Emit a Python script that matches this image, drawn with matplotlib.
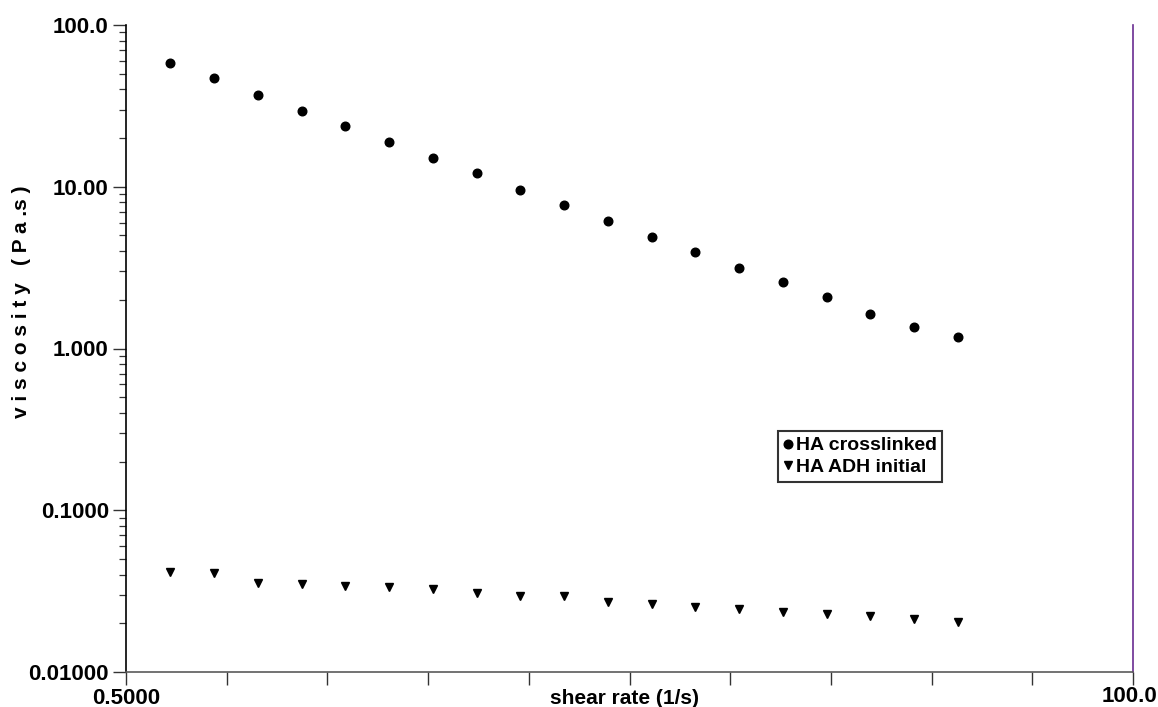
import matplotlib
matplotlib.use("Agg")
import matplotlib.pyplot as plt
from matplotlib.ticker import FixedLocator, NullFormatter, LogLocator, FixedFormatter

plt.rcParams['font.family'] = ['Liberation Sans', 'DejaVu Sans']
plt.rcParams['font.weight'] = 'bold'

# shear rate (1/s)
shear_rate = [0.631, 0.794, 1.000, 1.259, 1.585, 1.995, 2.512, 3.162, 3.981, 5.012,
              6.310, 7.943, 10.00, 12.59, 15.85, 19.95, 25.12, 31.62, 39.81]
# viscosity (Pa.s)
ha_crosslinked = [58.0, 46.8, 37.1, 29.4, 23.6, 19.0, 15.06, 12.11, 9.59, 7.71,
                  6.11, 4.91, 3.97, 3.13, 2.57, 2.07, 1.64, 1.364, 1.173]
ha_adh_initial = [0.0413, 0.0408, 0.0357, 0.0350, 0.0342, 0.0337, 0.0325, 0.0308, 0.0294, 0.0295,
                  0.0270, 0.0262, 0.0252, 0.0245, 0.0236, 0.0229, 0.0221, 0.0214, 0.0204]

x_tick_labels = ['0.5000', '', '', '', '', '', '', '', '', '', '100.0']
y_ticks = [0.01, 0.1, 1.0, 10.0, 100.0]
y_tick_labels = ['0.01000', '0.1000', '1.000', '10.00', '100.0']
series_names = ['HA crosslinked', 'HA ADH initial']

W, H = 1158, 707
fig = plt.figure(figsize=(W / 100, H / 100), dpi=100)
ax = fig.add_axes([126/W, 1 - 672/H, (1133 - 126)/W, (672 - 25)/H])

ax.plot(shear_rate, ha_crosslinked, linestyle='none', marker='o', markersize=6.2,
        color='black', label=series_names[0])
ax.plot(shear_rate, ha_adh_initial, linestyle='none', marker='v', markersize=5.6,
        color='black', label=series_names[1])

ax.set_xscale('log')
ax.set_yscale('log')
ax.set_xlim(0.5, 100.0)
ax.set_ylim(0.01, 100.0)

xmin, xmax = 0.5, 100.0
xticks = [xmin * (xmax / xmin) ** (k / 10) for k in range(11)]
ax.xaxis.set_major_locator(FixedLocator(xticks))
# last label drawn separately so it stays inside the figure like the reference
ax.xaxis.set_major_formatter(FixedFormatter(x_tick_labels[:-1] + ['']))
ax.xaxis.set_minor_locator(FixedLocator([]))
ax.xaxis.set_minor_formatter(NullFormatter())

ax.yaxis.set_major_locator(FixedLocator(y_ticks))
ax.yaxis.set_major_formatter(FixedFormatter(y_tick_labels))
ax.yaxis.set_minor_locator(LogLocator(base=10, subs=[2, 3, 4, 5, 6, 7, 8, 9], numticks=20))
ax.yaxis.set_minor_formatter(NullFormatter())

ax.tick_params(axis='both', which='major', direction='out', length=9.4, width=1.0,
               color='#333333', labelsize=16, pad=3)
ax.tick_params(axis='y', which='minor', direction='out', length=5, width=0.9, color='#333333')
ax.tick_params(axis='x', pad=2)

for lbl in ax.get_xticklabels() + ax.get_yticklabels():
    lbl.set_fontweight('bold')

ax.spines['top'].set_visible(False)
ax.spines['left'].set_color('black')
ax.spines['left'].set_linewidth(1.2)
ax.spines['bottom'].set_color('#5a5a5a')
ax.spines['bottom'].set_linewidth(1.2)
ax.spines['right'].set_color('#6a2c91')
ax.spines['right'].set_linewidth(1.2)

fig.text(1157 / W, 1 - 697 / H, x_tick_labels[-1], fontsize=16, fontweight='bold',
         ha='right', va='center')
fig.text(624 / W, 1 - 698 / H, 'shear rate (1/s)', fontsize=15, fontweight='bold',
         ha='center', va='center')
fig.text(22 / W, 1 - 302 / H, 'v i s c o s i t y   ( P a .s )', fontsize=15,
         fontweight='bold', rotation=90, ha='center', va='center')

leg = ax.legend(loc='upper left', bbox_to_anchor=(0.6475, 0.3725), frameon=True,
                fancybox=False, edgecolor='black', handlelength=0.45, handletextpad=0.15,
                borderpad=0.3, labelspacing=0.2, prop={'weight': 'bold', 'size': 14},
                borderaxespad=0)
leg.get_frame().set_linewidth(1.5)

fig.savefig('out.png', dpi=100)
